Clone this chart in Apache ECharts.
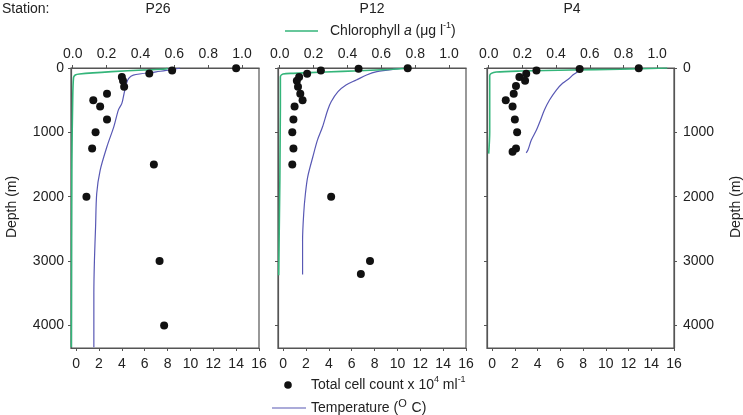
<!DOCTYPE html>
<html><head><meta charset="utf-8">
<script src="https://cdn.jsdelivr.net/npm/echarts@6/dist/echarts.min.js"></script>
<style>html,body{margin:0;padding:0;background:#fff}#c{width:743px;height:415px}</style>
</head><body><div id="c"></div>
<script>
// ---------- data ----------
const stations = ['P26', 'P12', 'P4'];
const cellTicks = [0, 2, 4, 6, 8, 10, 12, 14, 16];
const chlTicks = [0, 0.2, 0.4, 0.6, 0.8, 1.0];
const depthTicks = [0, 1000, 2000, 3000, 4000];

// P26
const p26CellCount = [14.0, 8.4, 6.4, 4.0, 4.1, 4.2, 2.7, 1.5, 2.1, 2.7, 1.7, 1.4, 6.8, 0.9, 7.3, 7.7];
const p26CellDepth = [5, 40, 85, 140, 200, 290, 400, 500, 600, 800, 1000, 1250, 1500, 2000, 3000, 4000];
const p26Temp = [9.1, 8.2, 7.0, 5.0, 4.6, 4.4, 4.2, 4.0, 3.7, 3.3, 2.7, 2.1, 1.8, 1.7, 1.6, 1.55, 1.55];
const p26TempDepth = [0, 30, 60, 110, 160, 240, 390, 550, 650, 910, 1220, 1590, 1950, 2470, 2990, 3500, 4340];
const p26Chl = [0.56, 0.55, 0.42, 0.23, 0.04, 0.015, 0.005, 0.0, -0.005, -0.008];
const p26ChlDepth = [0, 16, 31, 57, 93, 109, 150, 500, 1500, 4340];

// P12
const p12CellCount = [10.9, 6.6, 3.3, 2.1, 1.4, 1.2, 1.3, 1.5, 1.7, 1.0, 0.9, 0.8, 0.9, 0.8, 4.2, 7.6, 6.8];
const p12CellDepth = [5, 12, 40, 90, 140, 200, 290, 400, 500, 600, 800, 1000, 1250, 1500, 2000, 3000, 3200];
const p12Temp = [10.9, 9.6, 8.2, 7.3, 6.4, 5.5, 4.8, 4.2, 3.9, 3.45, 3.0, 2.6, 2.15, 1.95, 1.8, 1.7, 1.7];
const p12TempDepth = [0, 20, 57, 109, 187, 264, 368, 524, 653, 913, 1120, 1379, 1690, 1949, 2260, 2675, 3210];
const p12Chl = [0.77, 0.76, 0.67, 0.47, 0.27, 0.08, 0.02, 0.004, 0.004, -0.006];
const p12ChlDepth = [0, 5, 20, 42, 62, 83, 93, 135, 600, 3220];

// P4
const p4CellCount = [12.9, 7.7, 3.9, 3.0, 2.4, 2.9, 2.1, 1.9, 1.2, 1.8, 2.0, 2.2, 2.1, 1.8];
const p4CellDepth = [5, 15, 40, 90, 140, 200, 280, 400, 500, 600, 800, 1000, 1250, 1300];
const p4Temp = [7.8, 7.6, 7.4, 7.1, 6.8, 6.2, 5.65, 5.05, 4.6, 4.2, 3.9, 3.45, 3.15, 3.0];
const p4TempDepth = [0, 40, 73, 109, 160, 238, 342, 498, 653, 835, 964, 1120, 1275, 1317];
const p4Chl = [1.06, 1.06, 0.78, 0.49, 0.19, 0.045, 0.016, 0.006, 0.006, 0.0];
const p4ChlDepth = [0, 5, 20, 31, 47, 62, 83, 120, 1000, 1330];

// ---------- chart ----------
const FONT = '"Liberation Sans", Arial, Helvetica, sans-serif';
const FRAME = '#555';
const TXT = '#222';
const GREEN = '#34b57a';
const BLUE = '#5858b4';

const zip = (xs, ys) => xs.map((x, i) => [x, ys[i]]);
const panels = [
  {cell: p26CellCount, cellD: p26CellDepth, t: p26Temp, tD: p26TempDepth, c: p26Chl, cD: p26ChlDepth},
  {cell: p12CellCount, cellD: p12CellDepth, t: p12Temp, tD: p12TempDepth, c: p12Chl, cD: p12ChlDepth},
  {cell: p4CellCount, cellD: p4CellDepth, t: p4Temp, tD: p4TempDepth, c: p4Chl, cD: p4ChlDepth}
];
const gridLefts = [71, 278, 487];
const gridWidths = [188, 188, 187];

const grid = gridLefts.map((l, i) => ({left: l, top: 68, width: gridWidths[i], height: 280,
  show: true, borderColor: FRAME, borderWidth: 1.2, backgroundColor: 'transparent'}));

const depthFmt = v => String(v);
const xAxis = [];
const yAxis = [];
const series = [];
panels.forEach((p, i) => {
  xAxis.push({type: 'value', gridIndex: i, position: 'bottom', min: -0.45, max: 16,
    axisLine: {show: true, onZero: false, lineStyle: {color: FRAME, width: 1.2}},
    axisTick: {show: true, length: 3, customValues: cellTicks, lineStyle: {color: FRAME}},
    axisLabel: {customValues: cellTicks, margin: 9, fontSize: 14, color: TXT, fontFamily: FONT},
    splitLine: {show: false}});
  xAxis.push({type: 'value', gridIndex: i, position: 'top', min: -0.01, max: 1.1,
    axisLine: {show: true, onZero: false, lineStyle: {color: FRAME, width: 1.2}},
    axisTick: {show: true, length: 3, customValues: chlTicks, lineStyle: {color: FRAME}},
    axisLabel: {customValues: chlTicks, margin: 7, fontSize: 14, color: TXT, fontFamily: FONT,
      formatter: v => v.toFixed(1)},
    splitLine: {show: false}});
  yAxis.push({type: 'value', gridIndex: i, position: 'left', inverse: true, min: 0, max: 4350,
    axisLine: {show: true, onZero: false, lineStyle: {color: FRAME, width: 1.2}},
    axisTick: {show: true, length: 3, customValues: depthTicks, lineStyle: {color: FRAME}},
    axisLabel: {show: i === 0, customValues: depthTicks, margin: 7, align: 'right', formatter: depthFmt,
      fontSize: 14, color: TXT, fontFamily: FONT},
    splitLine: {show: false}});
  const xb = 2 * i, xt = 2 * i + 1, yi = i;
  series.push({type: 'line', xAxisIndex: xb, yAxisIndex: yi, data: zip(p.t, p.tD),
    symbol: 'none', smooth: 0.3, lineStyle: {color: BLUE, width: 1.2}, z: 2});
  series.push({type: 'line', xAxisIndex: xt, yAxisIndex: yi, data: zip(p.c, p.cD),
    symbol: 'none', smooth: 0.3, lineStyle: {color: GREEN, width: 1.6}, z: 3});
  series.push({type: 'scatter', xAxisIndex: xb, yAxisIndex: yi, data: zip(p.cell, p.cellD),
    symbol: 'circle', symbolSize: 8, itemStyle: {color: '#111', opacity: 1}, z: 4});
});
// right depth axis on last panel
yAxis.push({type: 'value', gridIndex: 2, position: 'right', inverse: true, min: 0, max: 4350,
  axisLine: {show: true, onZero: false, lineStyle: {color: FRAME, width: 1.2}},
  axisTick: {show: true, length: 3, customValues: depthTicks, lineStyle: {color: FRAME}},
  axisLabel: {customValues: depthTicks, margin: 9, align: 'left', formatter: depthFmt,
    fontSize: 14, color: TXT, fontFamily: FONT},
  splitLine: {show: false}});

function txt(text, x, y, styleExtra, elExtra) {
  const style = Object.assign({text: text, fill: TXT, font: '14px ' + FONT,
    align: 'left', verticalAlign: 'middle', textAlign: 'left', textVerticalAlign: 'middle'}, styleExtra || {});
  return Object.assign({type: 'text', x: x, y: y, silent: true, style: style}, elExtra || {});
}
const C = {align: 'center', textAlign: 'center'};

const richBase = {
  n: {fontSize: 14, fontFamily: FONT, color: TXT},
  i: {fontSize: 14, fontFamily: FONT, fontStyle: 'italic', color: TXT},
  s: {fontSize: 9, fontFamily: FONT, color: TXT, padding: [0, 0, 10, 0]},
  o: {fontSize: 11, fontFamily: FONT, color: TXT, padding: [0, 1, 9, 0]}
};

const graphic = [
  txt('Station:', 2, 9),
  txt(stations[0], 158, 9, C),
  txt(stations[1], 372, 9, C),
  txt(stations[2], 572, 9, C),
  txt('Depth (m)', 12, 207, C, {rotation: Math.PI / 2}),
  txt('Depth (m)', 736, 207, C, {rotation: Math.PI / 2}),
  {type: 'line', silent: true, shape: {x1: 285, y1: 31, x2: 318, y2: 31}, style: {stroke: GREEN, lineWidth: 1.6}},
  txt('{n|Chlorophyll }{i|a}{n| (μg l}{s|-1}{n|)}', 330, 31, {rich: richBase}),
  {type: 'circle', silent: true, shape: {cx: 288, cy: 385, r: 3.8}, style: {fill: '#111'}},
  txt('{n|Total cell count x 10}{s|4}{n| ml}{s|-1}', 311, 385, {rich: richBase}),
  {type: 'line', silent: true, shape: {x1: 272, y1: 408, x2: 306, y2: 408}, style: {stroke: BLUE, lineWidth: 1.2}},
  txt('{n|Temperature (}{o|O}{n| C)}', 311, 408, {rich: richBase})
];

const chart = echarts.init(document.getElementById('c'), null, {renderer: 'canvas'});
chart.setOption({animation: false, grid: grid, xAxis: xAxis, yAxis: yAxis, series: series, graphic: graphic});
</script></body></html>
